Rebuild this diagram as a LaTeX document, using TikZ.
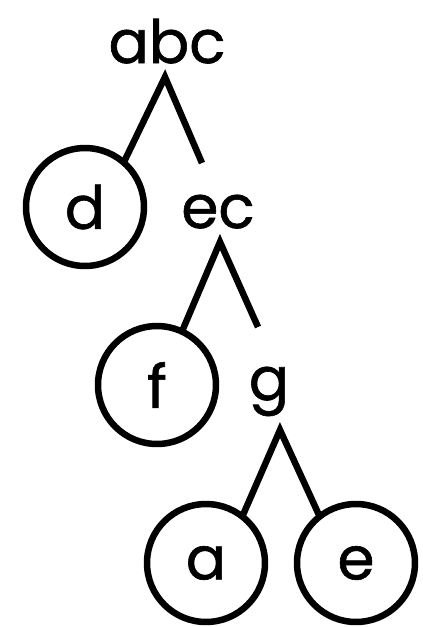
\documentclass[tikz,border=0pt]{standalone}
\usepackage{fontspec}
\setmainfont{Poppins}[FakeBold=1]

\begin{document}
\begin{tikzpicture}[x=0.02cm,y=-0.02cm,line join=miter,
    every node/.style={inner sep=0pt,font=\fontsize{34}{40}\selectfont},
    leaf/.style={circle,draw,line width=0.13cm,minimum size=2.36cm,outer sep=0pt},
    branch/.style={line width=0.13cm}]
  \useasboundingbox (0,0) rectangle (423,627);
  % labels of the inner nodes
  \node[anchor=base] (abc) at (167,63) {abc};
  \node[anchor=base] (ec) at (218,228) {ec};
  \node[anchor=base] (g) at (269,400) {g};
  % leaves
  \node[leaf] (d) at (85,207) {d};
  \node[leaf] (f) at (157,385) {f};
  \node[leaf] (a) at (206,563) {a};
  \node[leaf] (e) at (356,563) {e};
  % wedge tips and free ends
  \coordinate (abctip) at (165,77);
  \coordinate (abcend) at (202,163);
  \coordinate (ectip) at (220,242);
  \coordinate (ecend) at (258,327);
  \coordinate (gtip) at (280,430);
  \draw[branch] (d.49) -- (abctip) -- (abcend);
  \draw[branch] (f.65) -- (ectip) -- (ecend);
  \draw[branch] (a.52) -- (gtip) -- (e.128);
\end{tikzpicture}
\end{document}
